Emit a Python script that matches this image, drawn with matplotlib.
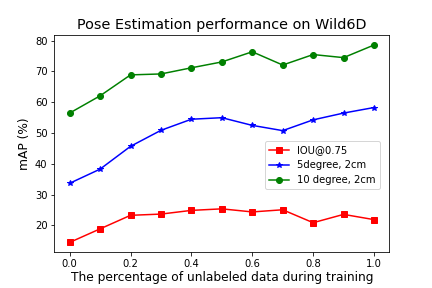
import matplotlib
matplotlib.use("Agg")
import matplotlib.pyplot as plt

ratios = [0.0, 0.1, 0.2, 0.3, 0.4, 0.5, 0.6, 0.7, 0.8, 0.9, 1.0]
iou75 = [14.5, 18.9, 23.3, 23.7, 24.9, 25.4, 24.4, 25.1, 20.9, 23.6, 21.9]
deg5_2cm = [33.7, 38.3, 45.7, 50.9, 54.5, 55.0, 52.5, 50.8, 54.3, 56.5, 58.3]
deg10_2cm = [56.5, 62.1, 68.9, 69.2, 71.2, 73.1, 76.4, 72.1, 75.5, 74.5, 78.6]

fig, ax = plt.subplots(figsize=(6, 4), dpi=72)
fig.subplots_adjust(left=0.126, right=0.901, top=0.878, bottom=0.124)
ax.plot(ratios, iou75, "s-", color="red", label="IOU@0.75")
ax.plot(ratios, deg5_2cm, "*-", color="blue", label="5degree, 2cm")
ax.plot(ratios, deg10_2cm, "o-", color="green", label="10 degree, 2cm")
ax.set_title("Pose Estimation performance on Wild6D", fontsize=14.4)
ax.set_xlabel("The percentage of unlabeled data during training", fontsize=12.3, labelpad=2)
ax.set_ylabel("mAP (%)", fontsize=12.3)
ax.legend(loc="center right", bbox_to_anchor=(0.987, 0.4))
fig.savefig("out.png")
